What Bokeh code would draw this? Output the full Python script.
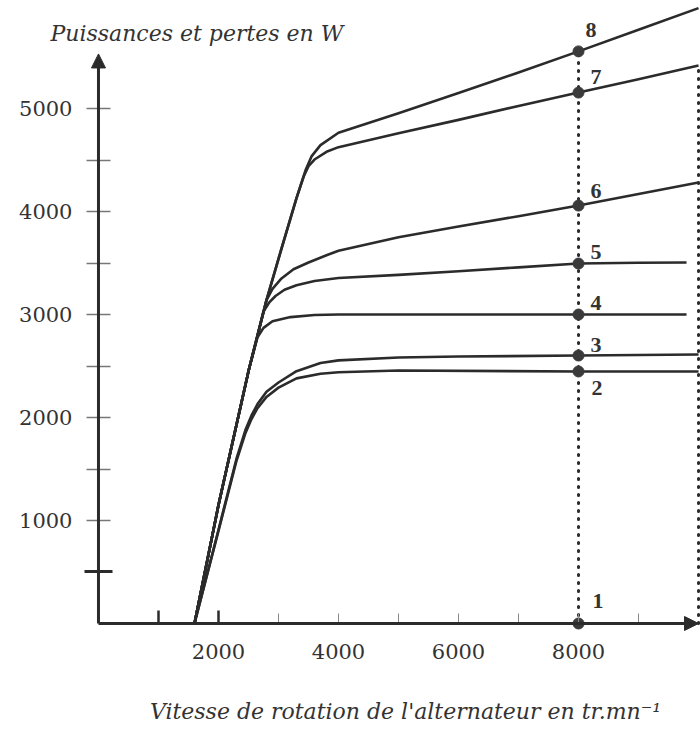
from bokeh.plotting import figure
from bokeh.models import FixedTicker, Arrow, NormalHead, Label, Range1d, LinearAxis
from bokeh.core.properties import value
from bokeh.embed import file_html
from bokeh.resources import INLINE

# ---------------- data ----------------
# rotation speed (tr/mn) and power (W) for each curve
c2_x = [1600, 2000, 2300, 2450, 2550, 2650, 2800, 3000, 3300, 3700, 4000, 5000, 8000, 10000]
c2_y = [0, 900, 1580, 1850, 1985, 2090, 2200, 2290, 2380, 2425, 2440, 2456, 2447, 2447]

c3_x = [1600, 2000, 2300, 2450, 2550, 2650, 2800, 3000, 3300, 3700, 4000, 5000, 6000, 8000, 10000]
c3_y = [0, 910, 1600, 1880, 2020, 2130, 2250, 2340, 2450, 2530, 2555, 2583, 2592, 2602, 2612]

c4_x = [1600, 2000, 2500, 2650, 2750, 2900, 3200, 3600, 4000, 8000, 9800]
c4_y = [0, 1150, 2450, 2780, 2870, 2935, 2975, 2995, 3000, 3000, 3000]

c5_x = [1600, 2000, 2500, 2750, 2850, 2950, 3100, 3300, 3600, 4000, 5000, 6000, 7000, 8000, 9000, 9800]
c5_y = [0, 1150, 2450, 3030, 3120, 3180, 3240, 3285, 3325, 3355, 3385, 3420, 3458, 3495, 3502, 3505]

c6_x = [1600, 2000, 2500, 2800, 2900, 3050, 3250, 3500, 3800, 4000, 5000, 6000, 7000, 8000, 9000, 10000]
c6_y = [0, 1150, 2450, 3140, 3250, 3350, 3440, 3505, 3575, 3620, 3750, 3855, 3955, 4058, 4170, 4282]

c7_x = [1600, 2000, 2500, 2800, 3050, 3300, 3420, 3500, 3600, 3800, 4000, 5000, 6000, 7000, 8000, 9000, 10000]
c7_y = [0, 1150, 2450, 3140, 3640, 4130, 4340, 4440, 4505, 4580, 4625, 4760, 4890, 5025, 5155, 5285, 5417]

c8_x = [1600, 2000, 2500, 2800, 3050, 3300, 3450, 3550, 3700, 4000, 5000, 6000, 7000, 8000, 9000, 10000]
c8_y = [0, 1150, 2450, 3140, 3640, 4130, 4400, 4535, 4645, 4765, 4955, 5150, 5350, 5555, 5765, 5975]

# marked operating points at 8000 tr/mn (curves 1..8)
pt_speed = 8000
pt_labels = ["1", "2", "3", "4", "5", "6", "7", "8"]
pt_values = [0, 2447, 2602, 3000, 3495, 4058, 5155, 5555]

# dotted guide at 10000 tr/mn up to curve 7
guide2_speed = 10000
guide2_value = 5417

x_major = [2000, 4000, 6000, 8000]
x_minor = [1000, 3000, 5000, 7000, 9000]
x_strong = [1000, 2000]
y_major = [1000, 2000, 3000, 4000, 5000]
y_minor = [1500, 2500, 3500, 4500]
y_strong = [500]

x_axis_end = 10000
y_axis_end = 5530

y_title = "Puissances et pertes en W"
x_title = "Vitesse de rotation de l'alternateur en tr.mn\u207b\u00b9"

# ---------------- styles ----------------
INK = "#2b2b2b"
SERIF = "DejaVu Serif"
lbl_dx = [14, 13, 12, 12, 12, 12, 12, 7]
lbl_dy = [-22, 17, -11, -12, -12, -15, -16, -21]

p = figure(width=700, height=730,
           x_range=Range1d(-1633, 10033), y_range=Range1d(-1039, 6049),
           output_backend="svg", toolbar_location=None,
           min_border_left=0, min_border_right=0,
           min_border_top=0, min_border_bottom=0)
p.xgrid.visible = False
p.ygrid.visible = False
p.outline_line_color = None
p.background_fill_color = "white"
p.border_fill_color = "white"

xa = p.xaxis[0]
xa.fixed_location = 0
xa.ticker = FixedTicker(ticks=x_major, minor_ticks=x_minor)
xa.axis_line_color = None
xa.major_tick_in = 10
xa.major_tick_out = 0
xa.minor_tick_in = 10
xa.minor_tick_out = 0
xa.major_tick_line_color = "#8a8a8a"
xa.minor_tick_line_color = "#8a8a8a"
xa.major_tick_line_width = 1
xa.minor_tick_line_width = 1
xa.major_label_text_font = SERIF
xa.major_label_text_font_size = "21px"
xa.major_label_text_color = "#333333"
xa.major_label_standoff = 21

xs_axis = LinearAxis(fixed_location=0, ticker=FixedTicker(ticks=x_strong),
                     axis_line_color=None, major_tick_in=13, major_tick_out=0,
                     minor_tick_in=0, minor_tick_out=0,
                     major_tick_line_width=2.5, major_tick_line_color=INK,
                     major_label_overrides={t: "" for t in x_strong})
p.add_layout(xs_axis, "below")

ya = p.yaxis[0]
ya.fixed_location = 0
ya.ticker = FixedTicker(ticks=y_major, minor_ticks=y_minor)
ya.axis_line_color = None
ya.major_tick_in = 12
ya.major_tick_out = 12
ya.minor_tick_in = 12
ya.minor_tick_out = 12
ya.major_tick_line_color = "#777777"
ya.minor_tick_line_color = "#777777"
ya.major_tick_line_width = 1.5
ya.minor_tick_line_width = 1.5
ya.major_label_text_font = SERIF
ya.major_label_text_font_size = "21px"
ya.major_label_text_color = "#333333"
ya.major_label_standoff = 14

ys_axis = LinearAxis(fixed_location=0, ticker=FixedTicker(ticks=y_strong),
                     axis_line_color=None, major_tick_in=14, major_tick_out=14,
                     minor_tick_in=0, minor_tick_out=0,
                     major_tick_line_width=3, major_tick_line_color=INK,
                     major_label_overrides={t: "" for t in y_strong})
p.add_layout(ys_axis, "left")

# axes with arrow heads
p.add_layout(Arrow(end=NormalHead(size=14, fill_color=INK, line_color=INK),
                   x_start=0, y_start=0, x_end=0, y_end=y_axis_end,
                   line_width=3, line_color=INK))
p.add_layout(Arrow(end=NormalHead(size=14, fill_color=INK, line_color=INK),
                   x_start=0, y_start=0, x_end=x_axis_end, y_end=0,
                   line_width=3, line_color=INK))

# dotted guides
p.line([pt_speed, pt_speed], [0, max(pt_values)], line_color=INK, line_width=3,
       line_dash="1 7", line_cap="round")
p.line([guide2_speed, guide2_speed], [0, guide2_value], line_color=INK, line_width=3,
       line_dash="1 7", line_cap="round")

for xs, ys in [(c2_x, c2_y), (c3_x, c3_y), (c4_x, c4_y), (c5_x, c5_y),
               (c6_x, c6_y), (c7_x, c7_y), (c8_x, c8_y)]:
    p.line(xs, ys, line_color=INK, line_width=2.6, line_join="round")

p.scatter([pt_speed] * len(pt_values), pt_values, size=11,
          fill_color="#3a3a3a", line_color="#3a3a3a")

p.text([pt_speed] * len(pt_values), pt_values, text=pt_labels,
       x_offset=lbl_dx, y_offset=lbl_dy,
       text_font=value("Liberation Serif"), text_font_style="bold",
       text_font_size="22px", text_color="#333333",
       text_baseline="alphabetic", text_align="left")

p.add_layout(Label(x=-800, y=5728, text=y_title, text_font=SERIF,
                   text_font_style="italic", text_font_size="22px",
                   text_color="#333333", text_baseline="alphabetic"))
p.add_layout(Label(x=5117, y=-852, text=x_title, text_font=SERIF,
                   text_font_style="italic", text_font_size="22px",
                   text_color="#333333", text_baseline="alphabetic",
                   text_align="center"))

open("out.html", "w").write(file_html(p, INLINE))
